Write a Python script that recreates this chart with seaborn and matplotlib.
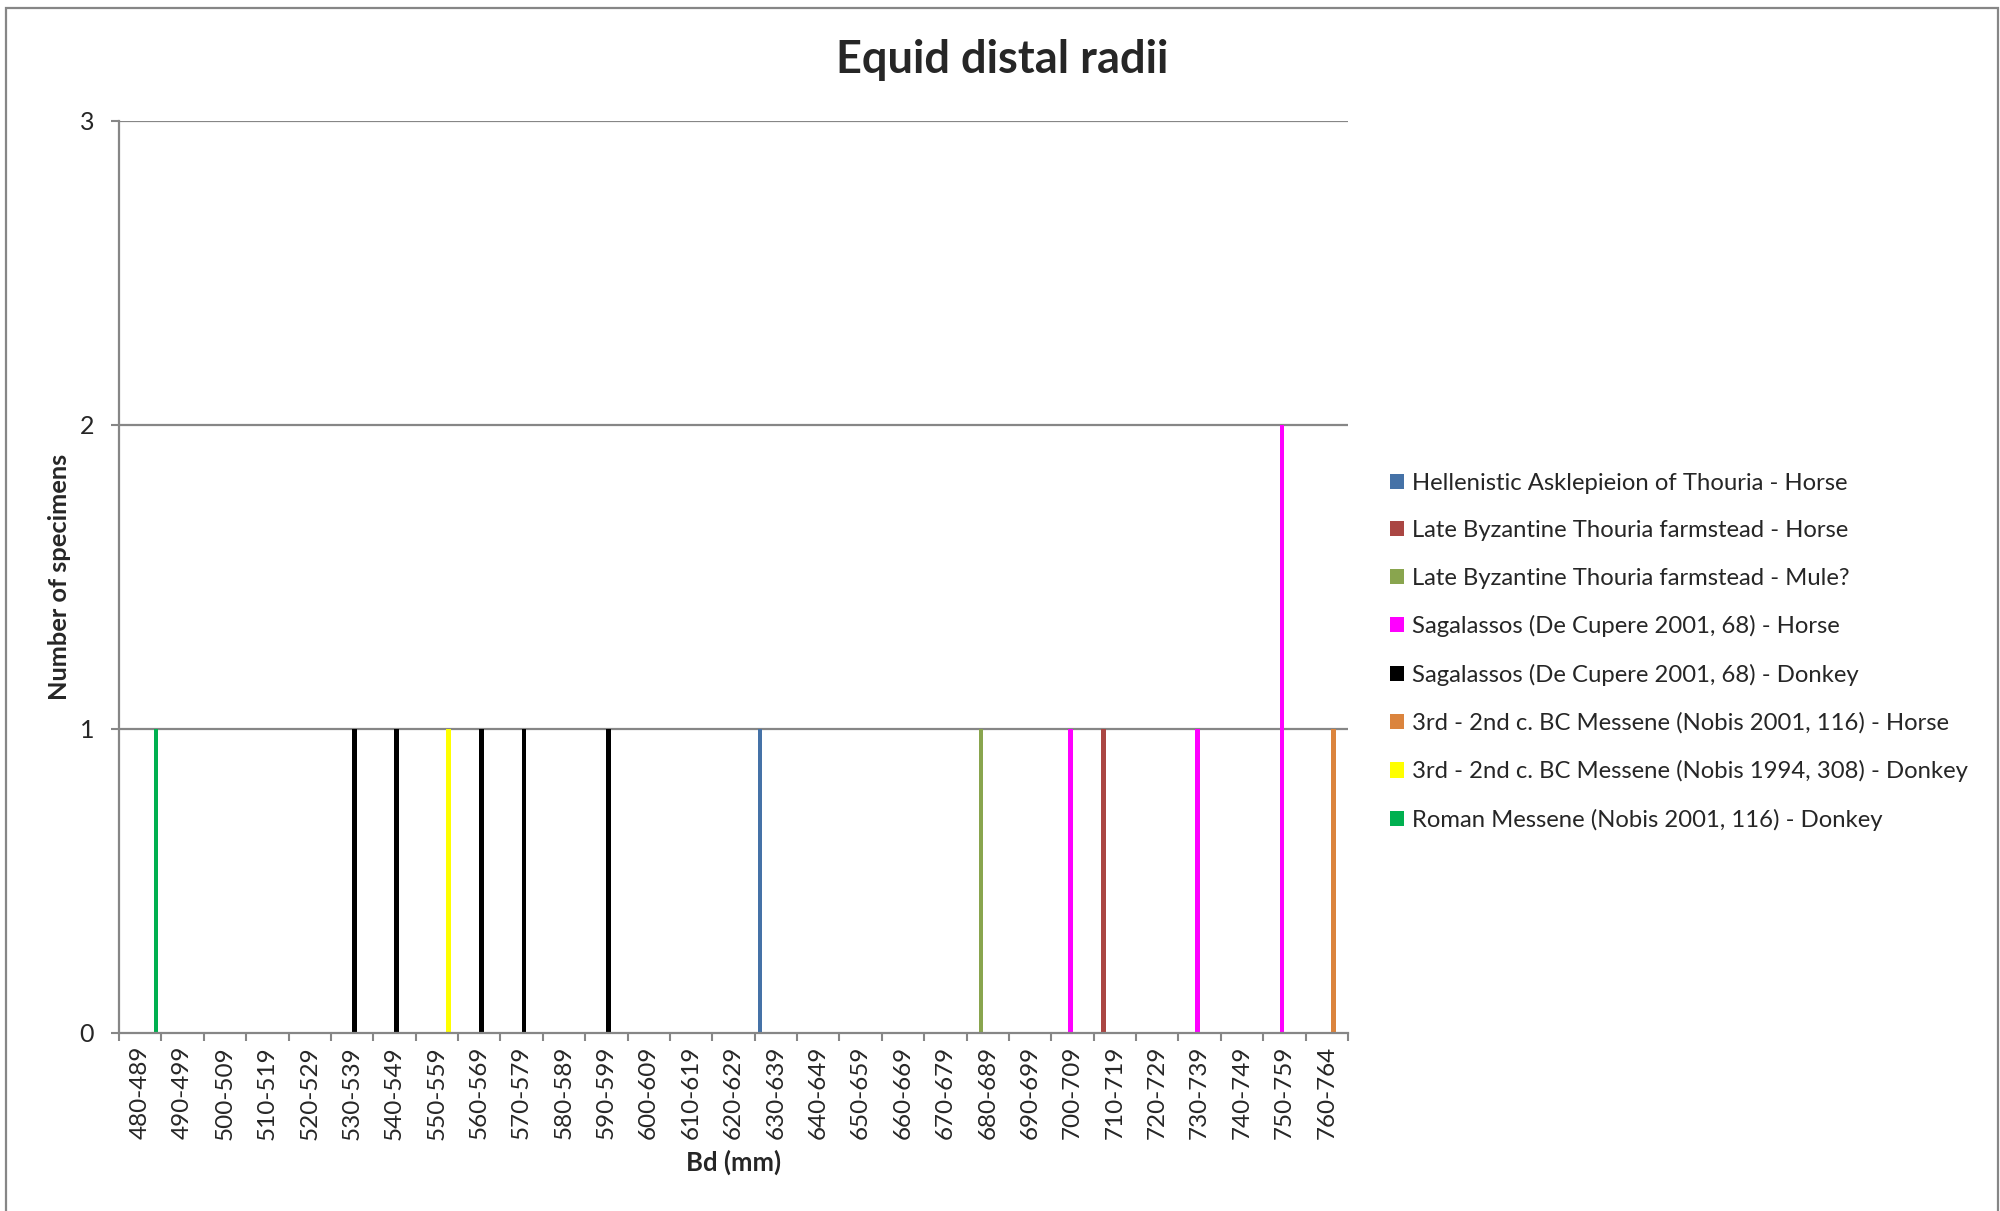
import numpy as np
import pandas as pd
import matplotlib
matplotlib.use("Agg")
import matplotlib.pyplot as plt
from matplotlib.patches import Rectangle
import seaborn as sns

# size classes on the x axis
bins = ["480-489", "490-499", "500-509", "510-519", "520-529", "530-539",
        "540-549", "550-559", "560-569", "570-579", "580-589", "590-599",
        "600-609", "610-619", "620-629", "630-639", "640-649", "650-659",
        "660-669", "670-679", "680-689", "690-699", "700-709", "710-719",
        "720-729", "730-739", "740-749", "750-759", "760-764"]

series_names = [
    "Hellenistic Asklepieion of Thouria - Horse",
    "Late Byzantine Thouria farmstead - Horse",
    "Late Byzantine Thouria farmstead - Mule?",
    "Sagalassos (De Cupere 2001, 68) - Horse",
    "Sagalassos (De Cupere 2001, 68) - Donkey",
    "3rd - 2nd c. BC Messene (Nobis 2001, 116) - Horse",
    "3rd - 2nd c. BC Messene (Nobis 1994, 308) - Donkey",
    "Roman Messene (Nobis 2001, 116) - Donkey",
]
series_colors = ["#4572A7", "#AA4643", "#89A54E", "#FF00FF",
                 "#000000", "#DB843D", "#FFFF00", "#00B050"]

# non-zero counts: (bin, series index, count)
obs_bin = ["630-639", "710-719", "680-689",
           "700-709", "730-739", "750-759",
           "530-539", "540-549", "560-569", "570-579", "590-599",
           "760-764", "550-559", "480-489"]
obs_series = [0, 1, 2,
              3, 3, 3,
              4, 4, 4, 4, 4,
              5, 6, 7]
obs_count = [1, 1, 1,
             1, 1, 2,
             1, 1, 1, 1, 1,
             1, 1, 1]

# full grid, zeros where nothing was recorded
grid = pd.MultiIndex.from_product([bins, series_names], names=["bin", "series"])
obs = pd.DataFrame({"bin": obs_bin,
                    "series": [series_names[i] for i in obs_series],
                    "count": obs_count}).set_index(["bin", "series"])
df = obs.reindex(grid, fill_value=0).reset_index()

sns.set_style("white")
plt.rcParams['font.family'] = ['Lato', 'DejaVu Sans']

fig = plt.figure(figsize=(20, 12.11), dpi=100)
ax = fig.add_axes([0.0595, 0.1472, 0.6145, 0.7529])

gray = "#868686"
ax.set_axisbelow(True)
for yv in [1, 2, 3]:
    ax.axhline(yv, color=gray, lw=1.6, zorder=0)

sns.barplot(data=df, x="bin", y="count", hue="series", order=bins,
            hue_order=series_names, palette=series_colors, width=0.86,
            errorbar=None, linewidth=0, ax=ax, legend=False, saturation=1)

ax.set_xlim(-0.5, len(bins) - 0.5)
ax.set_ylim(0, 3)
ax.set_yticks([0, 1, 2, 3])
ax.set_xticks(range(len(bins)))
ax.set_xticklabels(bins, rotation=90)
ax.set_xticks(np.arange(-0.5, len(bins), 1), minor=True)
ax.tick_params(axis="x", which="major", length=0, pad=9.5, labelsize=17.5)
ax.tick_params(axis="x", which="minor", length=6, width=1.5, color=gray, direction="out", bottom=True)
ax.tick_params(axis="y", length=6, width=1.5, color=gray, direction="out", left=True, pad=12, labelsize=18)

for s in ["top", "right"]:
    ax.spines[s].set_visible(False)
for s in ["left", "bottom"]:
    ax.spines[s].set_color(gray)
    ax.spines[s].set_linewidth(1.6)

ax.set_xlabel("Bd (mm)", fontsize=18.5, fontweight="bold", labelpad=7.5)
ax.set_ylabel("Number of specimens", fontsize=18.3, fontweight="bold", labelpad=6)

fig.text(0.501, 0.9397, "Equid distal radii", ha="center", va="baseline",
         fontsize=32.5, fontweight="bold")

handles = [Rectangle((0, 0), 1, 1, facecolor=c, edgecolor="none") for c in series_colors]
fig.legend(handles, series_names, loc="upper left", bbox_to_anchor=(1390 / 2000, 0.6098),
           frameon=False, fontsize=17.2, handlelength=0.59, handleheight=0.59,
           handletextpad=0.33, labelspacing=1.11, borderpad=0, borderaxespad=0)

# outer chart border
fig.patches.append(Rectangle((6 / 2000, -0.01), 1992 / 2000, 1 - 8 / 1211 + 0.01,
                             transform=fig.transFigure, fill=False,
                             edgecolor=gray, lw=1.6))

fig.savefig("out.png", dpi=100)
